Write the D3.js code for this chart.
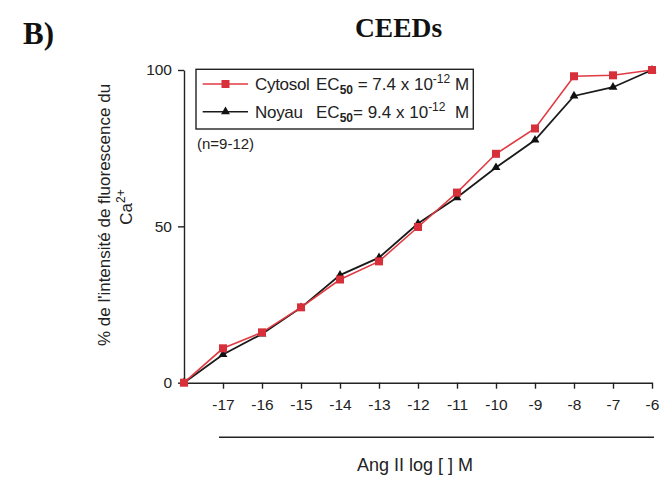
<!DOCTYPE html>
<html><head><meta charset="utf-8">
<script src="https://cdn.jsdelivr.net/npm/d3@7"></script>
<style>body{margin:0;background:#fff}svg{display:block}</style>
</head><body>
<svg id="c" width="667" height="481"></svg>
<script>
const logConc = [-18,-17,-16,-15,-14,-13,-12,-11,-10,-9,-8,-7,-6];
const cytosol = [0,11.0,16.1,24.1,33.0,38.8,49.8,60.8,73.2,81.3,98.0,98.3,100];
const noyau   = [0,9.0,15.6,24.0,34.4,40.0,50.9,59.2,68.8,77.6,91.7,94.5,100];
const xTicks = [-17,-16,-15,-14,-13,-12,-11,-10,-9,-8,-7,-6];
const yTicks = [0,50,100];

const svg = d3.select("#c");
const font = "Liberation Sans, Arial, sans-serif";
const x = d3.scaleLinear().domain([-18,-6]).range([184,652]);
const y = d3.scaleLinear().domain([0,100]).range([382.7,70]);

// axes
const gx = svg.append("g").attr("transform","translate(0,382.7)")
  .call(d3.axisBottom(x).tickValues(xTicks).tickFormat(d=>d).tickSize(6).tickPadding(10).tickSizeOuter(0));
const gy = svg.append("g").attr("transform","translate(184,0)")
  .call(d3.axisLeft(y).tickValues(yTicks).tickSize(6).tickPadding(6).tickSizeOuter(0));
[gx,gy].forEach(g=>{
  g.selectAll("path,line").attr("stroke","#222").attr("stroke-width",1.4);
  g.selectAll("text").attr("font-family",font).attr("font-size",15.5).attr("fill","#222");
});

// series
const line = d3.line().x((d,i)=>x(logConc[i])).y(d=>y(d));
const red = "#e03a42";
svg.append("path").datum(noyau).attr("d",line).attr("fill","none").attr("stroke","#1a1a1a").attr("stroke-width",1.8);
svg.append("path").datum(cytosol).attr("d",line).attr("fill","none").attr("stroke",red).attr("stroke-width",1.6);
const tri = d3.symbol().type(d3.symbolTriangle).size(34);
svg.selectAll(".tri").data(noyau).join("path").attr("d",tri)
  .attr("transform",(d,i)=>`translate(${x(logConc[i])},${y(d)})`).attr("fill","#111");
svg.selectAll(".sq").data(cytosol).join("rect")
  .attr("x",(d,i)=>x(logConc[i])-4).attr("y",d=>y(d)-4).attr("width",8).attr("height",8).attr("fill","#d8303a");

// lower line + x label
svg.append("line").attr("x1",219).attr("x2",654).attr("y1",437.3).attr("y2",437.3).attr("stroke","#222").attr("stroke-width",1.4);
svg.append("text").attr("x",415).attr("y",471).attr("text-anchor","middle").attr("font-family",font).attr("font-size",18).attr("fill","#222").text("Ang II log [ ] M");

// y label
const yl = svg.append("g").attr("font-family",font).attr("font-size",17).attr("fill","#222");
yl.append("text").attr("transform","translate(110,215) rotate(-90)").attr("text-anchor","middle").text("% de l'intensité de fluorescence du");
const ca = yl.append("text").attr("transform","translate(132,207) rotate(-90)").attr("text-anchor","middle");
ca.append("tspan").text("Ca");
ca.append("tspan").attr("dy",-7).attr("font-size",12).text("2+");

// titles
svg.append("text").attr("x",23).attr("y",44).attr("font-family","Liberation Serif, Times New Roman, serif").attr("font-weight","bold").attr("font-size",31).attr("fill","#111").text("B)");
svg.append("text").attr("x",355).attr("y",37).attr("font-family","Liberation Serif, Times New Roman, serif").attr("font-weight","bold").attr("font-size",27.5).attr("fill","#111").text("CEEDs");

// legend
const lg = svg.append("g").attr("font-family",font).attr("font-size",17).attr("fill","#222");
lg.append("rect").attr("x",196).attr("y",69.3).attr("width",277.3).attr("height",59.7).attr("fill","none").attr("stroke","#222").attr("stroke-width",1.4);
const items = [
  {name:"Cytosol", ec:" = 7.4 x 10", color:red, mark:"sq", yy:84},
  {name:"Noyau", ec:"= 9.4 x 10", color:"#1a1a1a", mark:"tri", yy:111.7}
];
items.forEach(it=>{
  lg.append("line").attr("x1",202.7).attr("x2",248).attr("y1",it.yy).attr("y2",it.yy).attr("stroke",it.color).attr("stroke-width",1.6);
  if(it.mark==="sq") lg.append("rect").attr("x",225.5-4).attr("y",it.yy-4).attr("width",8).attr("height",8).attr("fill","#d8303a");
  else lg.append("path").attr("d",tri).attr("transform",`translate(225.5,${it.yy})`).attr("fill","#111");
  const t = lg.append("text").attr("x",255).attr("y",it.yy+6).attr("xml:space","preserve");
  t.append("tspan").attr("letter-spacing",-0.3).text(it.name);
  t.append("tspan").attr("x",316).text("EC");
  t.append("tspan").attr("dy",4).attr("font-size",12).attr("font-weight","bold").text("50");
  t.append("tspan").attr("dy",-4).text(it.ec);
  t.append("tspan").attr("dy",-7).attr("font-size",12).text("-12");
  t.append("tspan").attr("x",455).attr("dy",7).text("M");
});
lg.append("text").attr("x",197).attr("y",149).attr("font-size",15).text("(n=9-12)");
</script>
</body></html>
